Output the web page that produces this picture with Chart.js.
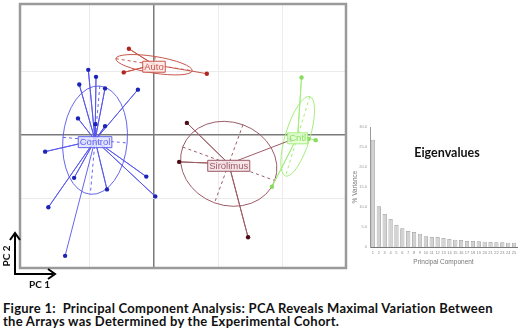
<!DOCTYPE html>
<html>
<head>
<meta charset="utf-8">
<script src="https://cdn.jsdelivr.net/npm/chart.js@4.4.0/dist/chart.umd.min.js"></script>
<style>
html, body { margin: 0; padding: 0; background: #fff; }
#wrap { position: relative; width: 520px; height: 334px; overflow: hidden; font-family: Lato, "Liberation Sans", sans-serif; }
#pca { position: absolute; left: 0; top: 0; }
#eig { position: absolute; left: 340px; top: 115px; }
.t { position: absolute; white-space: nowrap; color: #111; font-weight: bold; }
#pc2 { left: -8px; top: 250px; font-size: 10px; transform: rotate(-90deg); transform-origin: 50% 50%; width: 28px; text-align: center; }
#pc1 { left: 29px; top: 278px; font-size: 10px; }
#eigTitle { left: 407px; top: 145px; width: 80px; text-align: center; font-size: 12.5px; }
.cap { left: 3px; font-size: 13px; line-height: 13px; }
#cap1 { top: 302px; }
#cap2 { top: 315px; }
</style>
</head>
<body>
<div id="wrap">
  <canvas id="pca" width="350" height="272"></canvas>
  <canvas id="eig" width="180" height="155"></canvas>
  <svg style="position:absolute;left:0;top:225px" width="70" height="55">
    <line x1="15" y1="50" x2="15" y2="10" stroke="#000" stroke-width="2"/>
    <polyline points="10,15 15,8 20,15" fill="none" stroke="#000" stroke-width="2"/>
    <line x1="14" y1="49" x2="53" y2="49" stroke="#000" stroke-width="2"/>
    <polyline points="48,44 55,49 48,54" fill="none" stroke="#000" stroke-width="2"/>
  </svg>
  <div class="t" id="pc2">PC 2</div>
  <div class="t" id="pc1">PC 1</div>
  <div class="t" id="eigTitle">Eigenvalues</div>
  <div class="t cap" id="cap1">Figure 1:&nbsp; Principal Component Analysis: PCA Reveals Maximal Variation Between</div>
  <div class="t cap" id="cap2">the Arrays was Determined by the Experimental Cohort.</div>
</div>
<script>
// PCA scores (grid step = 1 unit)
const groupNames = ['Control', 'Auto', 'Sirolimus', 'Cntl'];
const controlX = [-1.02, -0.90, -1.16, -0.76, -0.25, -1.18, -0.91, -0.76, -1.69, -1.24, -0.73, -0.12, 0.02, -1.64, -1.38];
const controlY = [1.02, 0.91, 0.79, 0.73, 0.71, 0.26, 0.17, 0.14, -0.26, -0.67, -0.85, -0.65, -0.96, -1.13, -1.89];
const autoX = [-0.39, -0.47, 0.82];
const autoY = [1.35, 0.98, 0.96];
const siroX = [0.51, 0.39, 1.46, 2.12];
const siroY = [0.19, -0.42, -1.60, -0.08];
const cntlX = [2.29, 1.83, 2.10, 2.25, 2.40, 2.51];
const cntlY = [0.90, -0.81, -0.05, -0.02, -0.06, -0.08];

// group centres and ellipses (radii in units, angle in degrees)
const centerX = [-0.915, 0.0, 1.16, 2.23];
const centerY = [-0.08, 1.10, -0.45, -0.02];
const ellRx = [0.50, 0.60, 0.76, 0.19];
const ellRy = [0.85, 0.13, 0.65, 0.65];
const ellAngle = [5, 9, 20, 17];

const lineColors = ['rgba(85,85,235,0.9)', '#c8564c', '#9c5c66', '#a4ee7c'];
const dotColors = ['#1c24b8', '#b02420', '#4e0c14', '#86dc5c'];
const labelFills = ['rgba(225,228,255,0.85)', 'rgba(255,232,230,0.85)', 'rgba(245,225,230,0.9)', 'rgba(228,255,212,0.9)'];

const xGrid = [-1, 0, 1, 2];
const yGrid = [-1, 0, 1];

// eigenvalue bars
const components = ['1','2','3','4','5','6','7','8','9','10','11','12','13','14','15','16','17','18','19','20','21','22','23','24','25'];
const variance = [26.8, 10.2, 8.25, 7.0, 5.5, 4.67, 4.0, 3.75, 3.33, 2.67, 2.5, 2.5, 2.25, 2.0, 1.83, 1.75, 1.5, 1.5, 1.42, 1.33, 1.25, 1.17, 1.17, 1.08, 1.08];

const groupsX = [controlX, autoX, siroX, cntlX];
const groupsY = [controlY, autoY, siroY, cntlY];

function starData(g) {
    const out = [];
    groupsX[g].forEach((x, i) => {
        out.push({ x: centerX[g], y: centerY[g] });
        out.push({ x: x, y: groupsY[g][i] });
    });
    return out;
}

const ellipsePlugin = {
    id: 'ellipses',
    beforeDatasetsDraw(chart) {
        const { ctx, scales: { x, y }, chartArea } = chart;
        const ux = x.getPixelForValue(1) - x.getPixelForValue(0);
        const uy = y.getPixelForValue(0) - y.getPixelForValue(1);
        ctx.save();
        ctx.beginPath();
        ctx.rect(chartArea.left, chartArea.top, chartArea.width, chartArea.height);
        ctx.clip();
        groupNames.forEach((name, g) => {
            const cx = x.getPixelForValue(centerX[g]);
            const cy = y.getPixelForValue(centerY[g]);
            const rx = ellRx[g] * ux, ry = ellRy[g] * uy;
            const a = ellAngle[g] * Math.PI / 180;
            ctx.strokeStyle = lineColors[g];
            ctx.lineWidth = 1;
            ctx.setLineDash([]);
            ctx.beginPath();
            ctx.ellipse(cx, cy, rx, ry, a, 0, Math.PI * 2);
            ctx.stroke();
            ctx.setLineDash([3, 3]);
            ctx.beginPath();
            ctx.moveTo(cx - rx * Math.cos(a), cy - rx * Math.sin(a));
            ctx.lineTo(cx + rx * Math.cos(a), cy + rx * Math.sin(a));
            ctx.moveTo(cx + ry * Math.sin(a), cy - ry * Math.cos(a));
            ctx.lineTo(cx - ry * Math.sin(a), cy + ry * Math.cos(a));
            ctx.stroke();
        });
        ctx.restore();
    },
    afterDatasetsDraw(chart) {
        const { ctx, scales: { x, y } } = chart;
        ctx.save();
        ctx.font = '9.5px "Liberation Sans", Arial, sans-serif';
        ctx.textAlign = 'center';
        ctx.textBaseline = 'middle';
        groupNames.forEach((name, g) => {
            const cx = x.getPixelForValue(centerX[g]);
            const cy = y.getPixelForValue(centerY[g]) + 2;
            const w = ctx.measureText(name).width + 3;
            ctx.fillStyle = labelFills[g];
            ctx.strokeStyle = lineColors[g];
            ctx.lineWidth = 1;
            ctx.beginPath();
            ctx.rect(cx - w / 2, cy - 5.5, w, 11);
            ctx.fill();
            ctx.stroke();
            ctx.fillStyle = g === 3 ? '#8ade5e' : lineColors[g];
            ctx.fillText(name, cx, cy + 0.5);
        });
        ctx.restore();
    },
    afterDraw(chart) {
        const { ctx, chartArea } = chart;
        ctx.save();
        ctx.strokeStyle = '#9a9a9a';
        ctx.lineWidth = 2.5;
        ctx.strokeRect(chartArea.left, chartArea.top, chartArea.width, chartArea.height);
        ctx.restore();
    }
};

new Chart(document.getElementById('pca'), {
    type: 'scatter',
    data: {
        datasets: groupNames.map((name, g) => ({
            label: name,
            data: starData(g),
            showLine: true,
            borderColor: lineColors[g],
            borderWidth: 1,
            pointBackgroundColor: dotColors[g],
            pointBorderWidth: 0,
            pointRadius: ctx => (ctx.dataIndex % 2 ? 2.2 : 0)
        }))
    },
    options: {
        responsive: false,
        animation: false,
        layout: { padding: { left: 20, top: 2, right: 4, bottom: 4 } },
        plugins: { legend: { display: false }, tooltip: { enabled: false } },
        scales: {
            x: {
                type: 'linear', min: -2.08, max: 2.98,
                afterBuildTicks: axis => { axis.ticks = xGrid.map(v => ({ value: v })); },
                ticks: { display: false },
                border: { display: false },
                grid: {
                    drawTicks: false,
                    color: c => (c.tick && c.tick.value === 0 ? '#7a7a7a' : '#ececec'),
                    lineWidth: c => (c.tick && c.tick.value === 0 ? 1.5 : 1)
                }
            },
            y: {
                type: 'linear', min: -2.08, max: 2.05,
                afterBuildTicks: axis => { axis.ticks = yGrid.map(v => ({ value: v })); },
                ticks: { display: false },
                border: { display: false },
                grid: {
                    drawTicks: false,
                    color: c => (c.tick && c.tick.value === 0 ? '#7a7a7a' : '#ececec'),
                    lineWidth: c => (c.tick && c.tick.value === 0 ? 1.5 : 1)
                }
            }
        }
    },
    plugins: [ellipsePlugin]
});

new Chart(document.getElementById('eig'), {
    type: 'bar',
    data: {
        labels: components,
        datasets: [{
            data: variance,
            backgroundColor: '#d2d2d2',
            borderColor: '#9c9c9c',
            borderWidth: 0.8,
            barPercentage: 0.72,
            categoryPercentage: 1
        }]
    },
    options: {
        responsive: false,
        animation: false,
        layout: { padding: { left: 11, top: 12, right: 3, bottom: 0 } },
        plugins: { legend: { display: false }, tooltip: { enabled: false } },
        scales: {
            x: {
                afterFit: s => { s.height = 23; },
                grid: { display: false, drawTicks: true, tickLength: 2 },
                border: { color: '#777', width: 1 },
                ticks: { color: '#888', font: { size: 4 }, padding: 1, maxRotation: 0, autoSkip: false },
                title: { display: true, text: 'Principal Component', color: '#777', font: { size: 6.5 }, padding: { top: 2 } }
            },
            y: {
                min: 0, max: 30,
                afterFit: s => { s.width = 19; },
                grid: { display: false, drawTicks: true, tickLength: 2 },
                border: { color: '#999', width: 1 },
                ticks: { stepSize: 5, color: '#999', font: { size: 4 }, padding: 1,
                         callback: v => (v === 0 ? '0' : v.toFixed(1)) },
                title: { display: true, text: '% Variance', color: '#777', font: { size: 6.5 }, padding: 0 }
            }
        }
    }
});

// stretch the caption to the width of the original figure text
const cap1 = document.getElementById('cap1');
const cap2 = document.getElementById('cap2');
const spacing = (490 - cap1.getBoundingClientRect().width) / cap1.textContent.length;
cap1.style.letterSpacing = spacing + 'px';
cap2.style.letterSpacing = spacing + 'px';
</script>
</body>
</html>
